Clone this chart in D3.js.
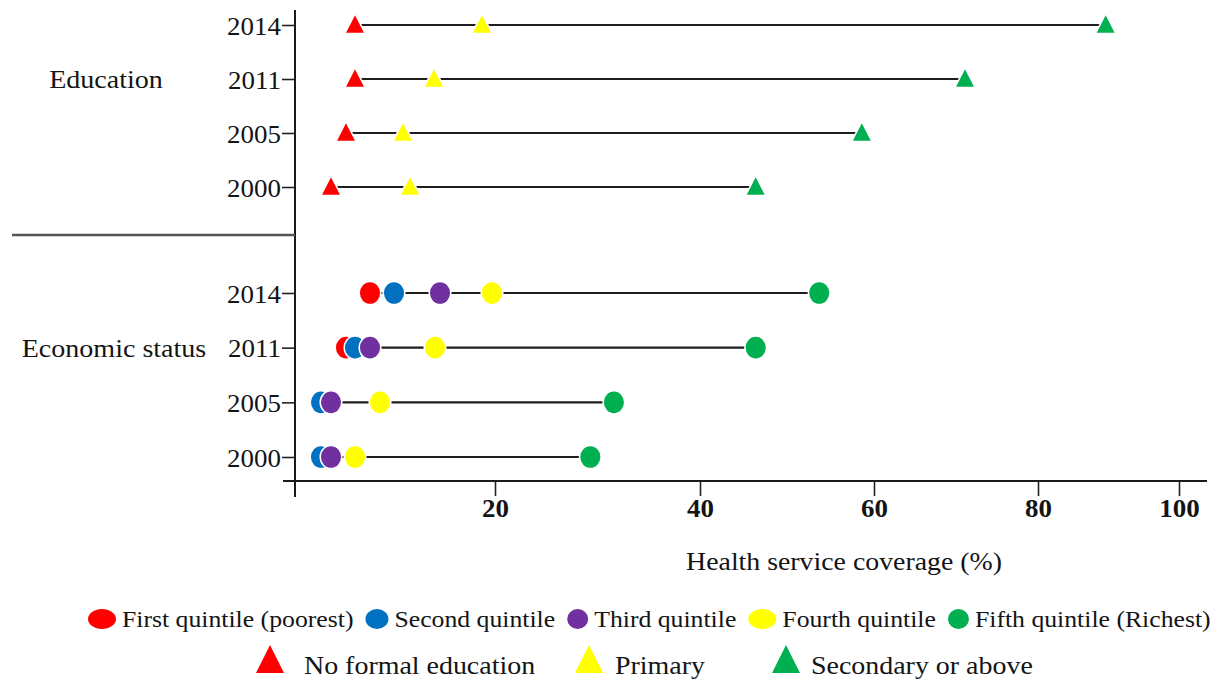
<!DOCTYPE html>
<html>
<head>
<meta charset="utf-8">
<script src="https://cdn.jsdelivr.net/npm/d3@7"></script>
<style>
  body { margin: 0; background: #fff; }
  svg text { font-family: "Liberation Serif", "Times New Roman", serif; fill: #141414; }
</style>
</head>
<body>
<div id="chart"></div>
<script>
// education rows (triangles)
const eduYears = ["2014", "2011", "2005", "2000"];
const noFormal = [6.0, 6.0, 5.1, 3.6];
const primary = [18.7, 13.9, 10.8, 11.5];
const secondary = [89.6, 71.1, 58.6, 46.4];

// economic status rows (circles)
const ecoYears = ["2014", "2011", "2005", "2000"];
const firstQ = [7.5, 5.1, 2.6, 2.6];
const secondQ = [9.9, 6.0, 2.6, 2.6];
const thirdQ = [14.5, 7.5, 3.6, 3.6];
const fourthQ = [19.7, 14.0, 8.5, 6.0];
const fifthQ = [53.7, 46.4, 31.6, 29.3];

const xTicks = [20, 40, 60, 80, 100];
const groupLabels = ["Education", "Economic status"];
const quintileNames = ["First quintile (poorest)", "Second quintile", "Third quintile", "Fourth quintile", "Fifth quintile (Richest)"];
const eduNames = ["No formal education", "Primary", "Secondary or above"];

const quintileColors = ["#ff0000", "#0070c0", "#7030a0", "#ffff00", "#00b050"];
const eduColors = ["#ff0000", "#ffff00", "#00b050"];

const width = 1231, height = 682;
const SX = 1.1; // the serif text in the original is a little wide

const svg = d3.select("#chart").append("svg")
    .attr("width", width)
    .attr("height", height);

svg.append("rect").attr("width", width).attr("height", height).attr("fill", "#fff");

// the original axis has uneven tick spacing, so the scale is piecewise
const x = d3.scaleLinear()
    .domain([0, 20, 40, 60, 80, 100, 104])
    .range([295, 495, 700, 874, 1038, 1179, 1207]);

const eduKeys = eduYears.map(d => "edu" + d);
const ecoKeys = ecoYears.map(d => "eco" + d);
const yEdu = d3.scalePoint().domain(eduKeys).range([25, 187]);
const yEco = d3.scalePoint().domain(ecoKeys).range([293, 457]);
function y(k) { return k.startsWith("edu") ? yEdu(k) : yEco(k); }

const eduRows = eduYears.map((d, i) => ({ key: "edu" + d, vals: [noFormal[i], primary[i], secondary[i]] }));
const ecoRows = ecoYears.map((d, i) => ({ key: "eco" + d, vals: [firstQ[i], secondQ[i], thirdQ[i], fourthQ[i], fifthQ[i]] }));

function stretch(sel, tx, ty) {
    sel.attr("transform", `translate(${tx},${ty}) scale(${SX},1)`);
}

function tri(w, h) {
    return `M0,${-h * 0.57}L${w / 2},${h * 0.43}L${-w / 2},${h * 0.43}Z`;
}

// axes
const axisY = 481;

const gx = svg.append("g")
    .attr("transform", `translate(0,${axisY})`)
    .call(d3.axisBottom(x).tickValues(xTicks).tickSize(15).tickSizeOuter(0));
gx.select(".domain").remove();
gx.selectAll(".tick line").attr("stroke", "#222").attr("stroke-width", 1.6);
gx.selectAll(".tick text")
    .attr("y", null).attr("dy", null)
    .style("font-size", "24.5px").style("font-weight", "bold")
    .attr("text-anchor", "middle")
    .call(stretch, 0, 36);

function yAxis(g, scale) {
    g.attr("transform", "translate(295,0)")
        .call(d3.axisLeft(scale).tickFormat(k => k.slice(3)).tickSize(13).tickSizeOuter(0));
    g.select(".domain").remove();
    g.selectAll(".tick line").attr("stroke", "#222").attr("stroke-width", 1.6);
    g.selectAll(".tick text")
        .attr("x", null).attr("dy", null)
        .style("font-size", "24.5px")
        .attr("text-anchor", "end")
        .call(stretch, -14, 9);
}
svg.append("g").call(yAxis, yEdu);
svg.append("g").call(yAxis, yEco);

svg.append("line")
    .attr("x1", 283).attr("x2", x(104))
    .attr("y1", axisY).attr("y2", axisY)
    .attr("stroke", "#1a1a1a").attr("stroke-width", 2);
svg.append("line")
    .attr("x1", 295).attr("x2", 295)
    .attr("y1", 10).attr("y2", 497)
    .attr("stroke", "#1a1a1a").attr("stroke-width", 2);

// separator between the two groups
svg.append("line")
    .attr("x1", 12).attr("x2", 295)
    .attr("y1", 235).attr("y2", 235)
    .attr("stroke", "#555").attr("stroke-width", 2.5);

svg.append("text").text(groupLabels[0])
    .style("font-size", "25.5px").attr("text-anchor", "middle")
    .call(stretch, 106, y("edu2011") + 9);
svg.append("text").text(groupLabels[1])
    .style("font-size", "25.5px").attr("text-anchor", "middle")
    .call(stretch, 114, y("eco2011") + 9);

svg.append("text").text("Health service coverage (%)")
    .style("font-size", "25.3px").attr("text-anchor", "middle")
    .call(stretch, 844, 570);

// range lines
const allRows = [...eduRows, ...ecoRows];
svg.append("g").selectAll("line")
    .data(allRows).enter()
    .append("line")
    .attr("x1", d => x(d3.min(d.vals)))
    .attr("x2", d => x(d3.max(d.vals)))
    .attr("y1", d => y(d.key))
    .attr("y2", d => y(d.key))
    .attr("stroke", "#1e1e1e")
    .attr("stroke-width", 2.2);

// education triangles
const eduG = svg.append("g").selectAll("g")
    .data(eduRows).enter()
    .append("g");
eduG.selectAll("path")
    .data(d => d.vals.map((v, j) => ({ v, j, key: d.key })))
    .enter().append("path")
    .attr("d", tri(20.5, 20))
    .attr("transform", d => `translate(${x(d.v)},${y(d.key)})`)
    .attr("fill", d => eduColors[d.j])
    .attr("stroke", "#fff")
    .attr("stroke-width", 1.5);

// economic circles
const ecoG = svg.append("g").selectAll("g")
    .data(ecoRows).enter()
    .append("g");
ecoG.selectAll("ellipse")
    .data(d => d.vals.map((v, j) => ({ v, j, key: d.key })))
    .enter().append("ellipse")
    .attr("cx", d => x(d.v))
    .attr("cy", d => y(d.key))
    .attr("rx", 10.8)
    .attr("ry", 11.6)
    .attr("fill", d => quintileColors[d.j])
    .attr("stroke", "#fff")
    .attr("stroke-width", 1.5);

// legend, row 1
const legendRx = [14, 11.5, 10.5, 14, 10.5];
let lx = 88;
quintileNames.forEach(function(name, i) {
    const cx = lx + legendRx[i];
    svg.append("ellipse")
        .attr("cx", cx).attr("cy", 619)
        .attr("rx", legendRx[i]).attr("ry", 10)
        .attr("fill", quintileColors[i]);
    const t = svg.append("text").text(name)
        .style("font-size", "23.4px")
        .call(stretch, cx + legendRx[i] + 6, 627);
    lx = cx + legendRx[i] + 6 + t.node().getComputedTextLength() * SX + 12;
});

// legend, row 2
const legend2X = [270, 589, 786];
const legend2Gap = [34, 26, 25];
eduNames.forEach(function(name, i) {
    svg.append("path")
        .attr("d", tri(28, 28))
        .attr("transform", `translate(${legend2X[i]},661)`)
        .attr("fill", eduColors[i]);
    svg.append("text").text(name)
        .style("font-size", "25.4px")
        .call(stretch, legend2X[i] + legend2Gap[i], 674);
});
</script>
</body>
</html>
